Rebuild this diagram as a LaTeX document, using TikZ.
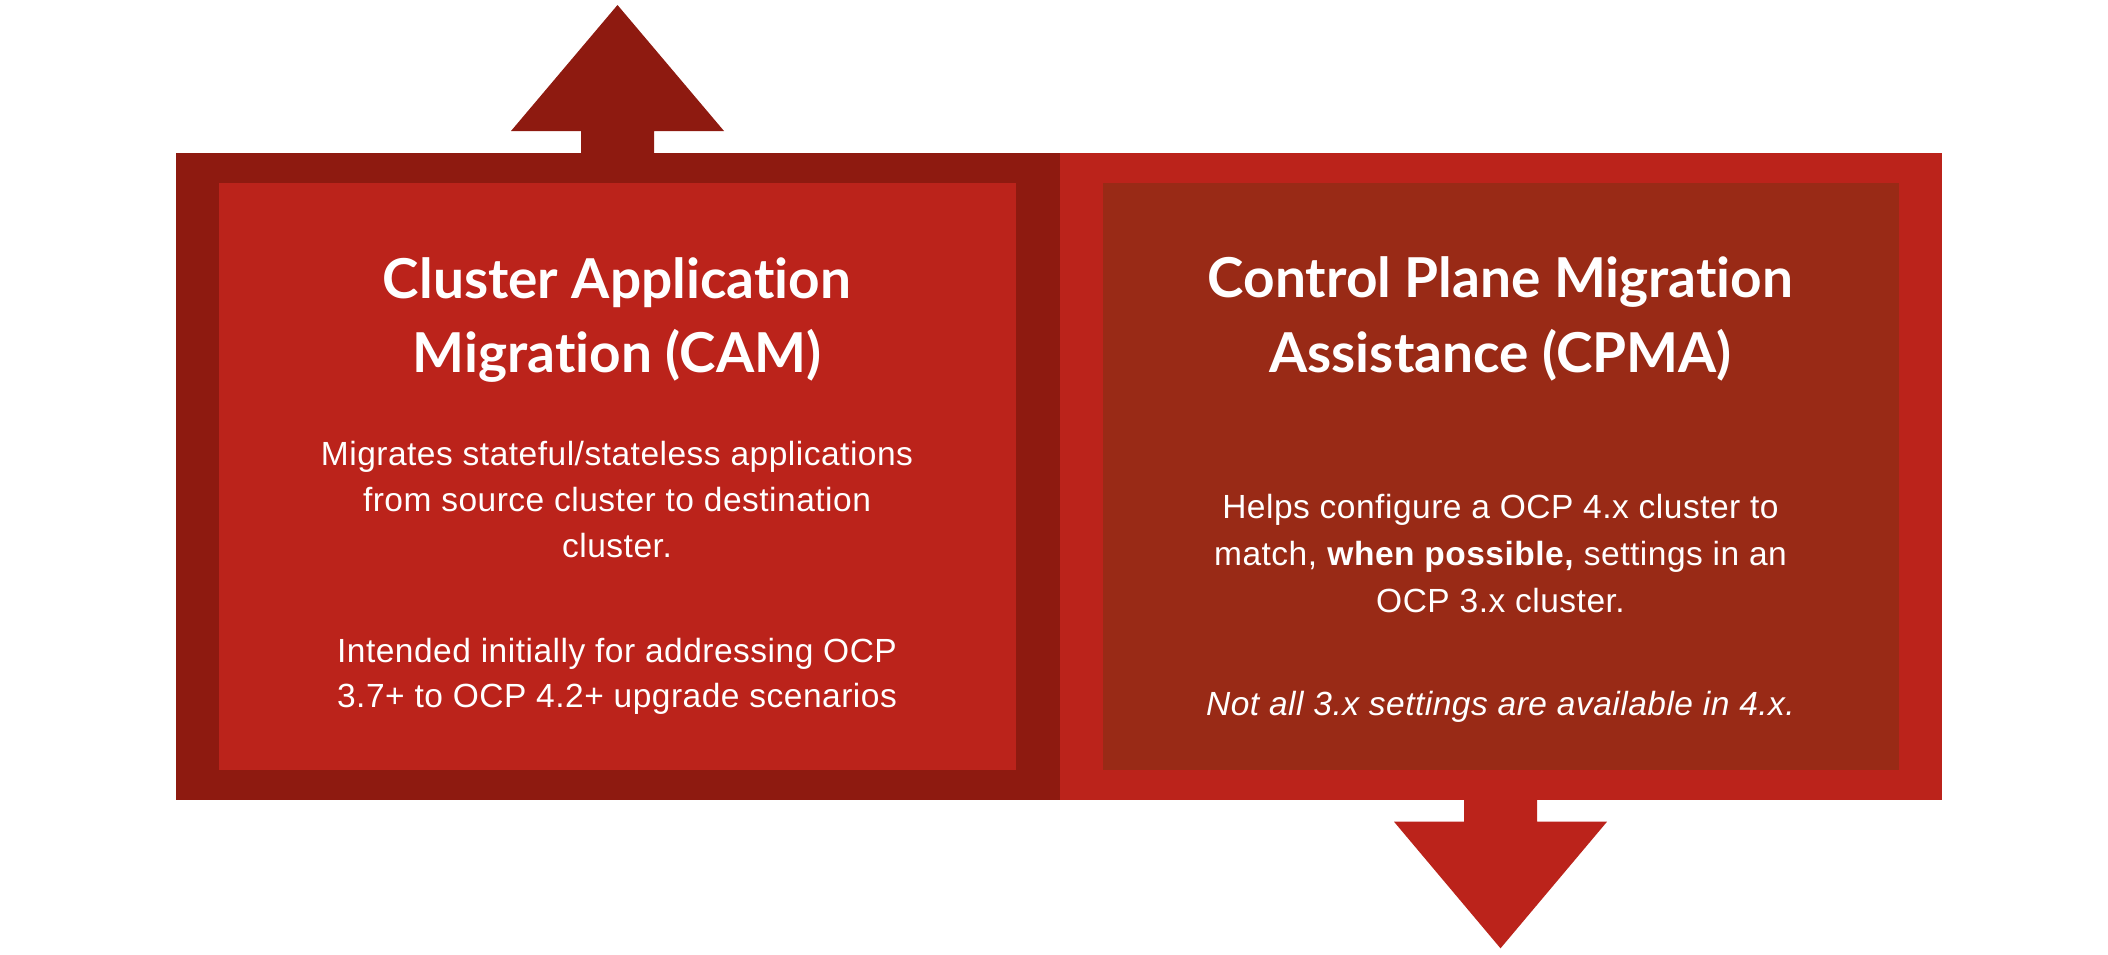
\documentclass[tikz,border=0pt]{standalone}
\usepackage{fontspec}
\setmainfont{Lato}[Ligatures=NoCommon]
\newfontfamily\bodyfont{Liberation Sans}[LetterSpace=1.5]
\definecolor{darkred}{HTML}{8E1A10}
\definecolor{midred}{HTML}{BB231B}
\definecolor{brownred}{HTML}{992A16}
\begin{document}
\begin{tikzpicture}[x=1pt,y=-1pt,
  box/.style={inner sep=0pt, outer sep=0pt, anchor=north west},
  title/.style={anchor=base, text=white, font=\fontsize{55}{60}\selectfont\bfseries},
  body/.style={anchor=base, text=white, font=\bodyfont\fontsize{33.5}{40}\selectfont}]
\useasboundingbox (0,0) rectangle (2108,954);
% outer boxes
\node[box, fill=darkred, minimum width=884pt, minimum height=646.5pt] (Lout) at (176.3,153.3) {};
\node[box, fill=midred, minimum width=881.7pt, minimum height=646.5pt] (Rout) at (1060,153.3) {};
% inner boxes
\node[box, fill=midred, minimum width=796.5pt, minimum height=587pt] (Lin) at (219,183) {};
\node[box, fill=brownred, minimum width=796.3pt, minimum height=587pt] (Rin) at (1102.7,183) {};
% top arrow
\fill[darkred] (581,153.8) -- (581,131) -- (511,131) -- (617.5,5) -- (724,131) -- (654,131) -- (654,153.8) -- cycle;
% bottom arrow
\fill[midred] (1464,799) -- (1464,821.7) -- (1394,821.7) -- (1500.5,948.3) -- (1607,821.7) -- (1537,821.7) -- (1537,799) -- cycle;
% left texts
\node[title] (lt1) at (617,298) {Cluster Application};
\node[title] (lt2) at (617,372) {Migration (CAM)};
\node[body] (lb1) at (617,465) {Migrates stateful/stateless applications};
\node[body] (lb2) at (617,511) {from source cluster to destination};
\node[body] (lb3) at (617,557) {cluster.};
\node[body] (lb4) at (617,662) {Intended initially for addressing OCP};
\node[body] (lb5) at (617,707) {3.7+ to OCP 4.2+ upgrade scenarios};
% right texts
\node[title] (rt1) at (1500.5,297) {Control Plane Migration};
\node[title] (rt2) at (1500.5,372) {Assistance (CPMA)};
\node[body] (rb1) at (1500.5,518) {Helps configure a OCP 4.x cluster to};
\node[body] (rb2) at (1500.5,565) {match, \textbf{when possible,} settings in an};
\node[body] (rb3) at (1500.5,612) {OCP 3.x cluster.};
\node[body] (rb4) at (1500.5,715) {\itshape Not all 3.x settings are available in 4.x.};
\end{tikzpicture}
\end{document}
